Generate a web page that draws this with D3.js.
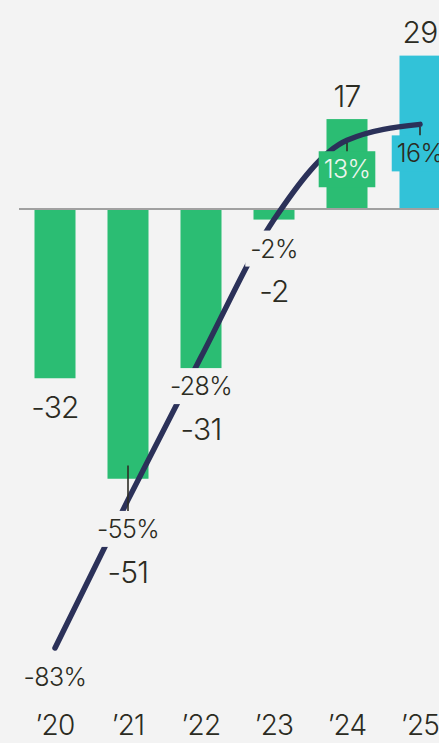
<!DOCTYPE html>
<html><head><meta charset="utf-8">
<script src="https://cdn.jsdelivr.net/npm/d3@7"></script>
<style>html,body{margin:0;padding:0;background:#f3f3f3;overflow:hidden}
text{font-family:Inter,Roboto,"Liberation Sans",sans-serif;font-weight:300}</style>
</head><body><svg id="c" width="439" height="743"></svg>
<script>
const years = ["\u201920","\u201921","\u201922","\u201923","\u201924","\u201925"];
const values = [-32, -51, -31, -2, 17, 29];
const growth = [-83, -55, -28, -2, 13, 16];
const valueLabels = ["-32", "-51", "-31", "-2", "17", "29"];
const growthLabels = ["-83%", "-55%", "-28%", "-2%", "13%", "16%"];
const forecast = [false, false, false, false, false, true];
const leaderFrom = [null, -48.5, null, null, 12.5, 15.5];

const W = 439, H = 743;
const C = {bg:"#f3f3f3", green:"#2bbd73", cyan:"#32c2d8", navy:"#2b3159", text:"#2b2b22", zero:"#a0a0a0"};
const svg = d3.select("#c");
svg.append("rect").attr("width",W).attr("height",H).attr("fill",C.bg);

const x = d3.scalePoint().domain(years).range([55, 420]);
const y = d3.scaleLinear().domain([0, -83]).range([209, 648]);
const bw = 41;
const data = years.map((yr,i)=>({yr, v:values[i], g:growth[i], vl:valueLabels[i], gl:growthLabels[i], f:forecast[i], lf:leaderFrom[i]}));
const col = d => d.f ? C.cyan : C.green;

// bars
svg.append("g").selectAll("rect").data(data).join("rect")
  .attr("x", d=>x(d.yr)-bw/2).attr("width", bw)
  .attr("y", d=>Math.min(y(d.v), y(0))).attr("height", d=>Math.abs(y(d.v)-y(0)))
  .attr("fill", col);

// zero line
svg.append("line").attr("x1",19).attr("x2",W).attr("y1",y(0)).attr("y2",y(0))
  .attr("stroke",C.zero).attr("stroke-width",2);

// growth curve
const line = d3.line().x(d=>x(d.yr)).y(d=>y(d.g)).curve(d3.curveMonotoneX);
svg.append("path").datum(data).attr("d",line).attr("fill","none")
  .attr("stroke",C.navy).attr("stroke-width",5.5).attr("stroke-linecap","round");

// growth labels with masking boxes
const pctOff = 29, boxH = 36;
const gl = svg.append("g").selectAll("g").data(data).join("g");
const gt = gl.append("text")
  .attr("x", d=>x(d.yr)).attr("y", d=>y(d.g)+pctOff).attr("dy","0.36em")
  .attr("text-anchor","middle").attr("font-size",25).attr("letter-spacing",-0.6)
  .attr("fill", (d,i)=> i===4 ? "#eef5ee" : C.text)
  .text(d=>d.gl);
gt.each(function(d){
  const w = this.getComputedTextLength() + 10;
  d3.select(this.parentNode).insert("rect","text")
    .attr("x", x(d.yr)-w/2).attr("width", w)
    .attr("y", y(d.g)+pctOff-boxH/2).attr("height", boxH)
    .attr("fill", d.g>0 ? col(d) : C.bg);
});

// leader ticks
svg.append("g").selectAll("line").data(data.filter(d=>d.lf!==null)).join("line")
  .attr("x1",d=>x(d.yr)).attr("x2",d=>x(d.yr))
  .attr("y1",d=>y(d.lf)).attr("y2",d=>y(d.g)+pctOff-boxH/2)
  .attr("stroke","#2d2d25").attr("stroke-width",1.6);

// value labels
svg.append("g").selectAll("text").data(data).join("text")
  .attr("x", d=>x(d.yr))
  .attr("y", d=>{
    if (d.v>0) return y(d.v)-23;
    let ly = y(d.v)+29;
    const py = y(d.g)+pctOff;
    if (Math.abs(ly-py) < 40) ly = py+43;
    return ly;
  })
  .attr("dy","0.36em").attr("text-anchor","middle").attr("font-size",30).attr("letter-spacing",-0.8)
  .attr("fill",C.text).text(d=>d.vl);

// x axis labels
svg.append("g").selectAll("text").data(years).join("text")
  .attr("x", d=>x(d)).attr("y", 725).attr("dy","0.36em")
  .attr("text-anchor","middle").attr("font-size",28).attr("letter-spacing",-0.8)
  .attr("fill",C.text).text(d=>d);
</script></body></html>
